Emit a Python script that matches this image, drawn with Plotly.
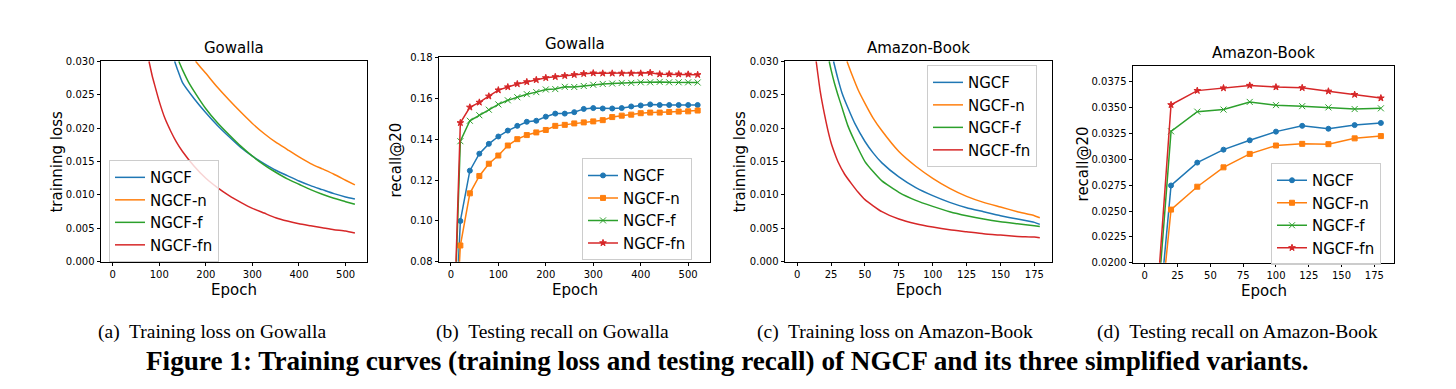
import plotly.graph_objects as go

W, H = 1456, 389
C_BLUE, C_ORANGE, C_GREEN, C_RED = "#1f77b4", "#ff7f0e", "#2ca02c", "#d62728"
names = ["NGCF", "NGCF-n", "NGCF-f", "NGCF-fn"]
colors = [C_BLUE, C_ORANGE, C_GREEN, C_RED]

# ---- (a) training loss on Gowalla ----
gl_ngcf_x = [133, 140, 150, 175, 200, 225, 250, 275, 300, 325, 350, 375, 400, 425, 450, 475, 500, 520]
gl_ngcf_y = [0.030, 0.0286, 0.0268, 0.0244, 0.0223, 0.0204, 0.0187, 0.0171, 0.0158, 0.0147, 0.0137,
             0.0129, 0.0121, 0.0114, 0.0108, 0.0102, 0.0097, 0.0094]
gl_n_x = [178, 190, 200, 225, 250, 275, 300, 325, 350, 375, 400, 425, 450, 475, 500, 520]
gl_n_y = [0.030, 0.0290, 0.0282, 0.0261, 0.0242, 0.0224, 0.0207, 0.0192, 0.0179, 0.0168, 0.0157,
          0.0147, 0.0139, 0.0131, 0.0122, 0.0115]
gl_f_x = [142, 150, 162, 175, 200, 225, 250, 275, 300, 325, 350, 375, 400, 425, 450, 475, 500, 520]
gl_f_y = [0.030, 0.0287, 0.0270, 0.0255, 0.0229, 0.0208, 0.0190, 0.0173, 0.0158, 0.0145, 0.0134,
          0.0124, 0.0116, 0.0108, 0.0101, 0.0095, 0.0090, 0.0086]
gl_fn_x = [78, 85, 90, 100, 112, 125, 137, 150, 175, 200, 225, 250, 275, 300, 325, 350, 375, 400,
           425, 450, 475, 500, 520]
gl_fn_y = [0.030, 0.0278, 0.0265, 0.0240, 0.0215, 0.0195, 0.0179, 0.0165, 0.0143, 0.0125, 0.0111,
           0.0099, 0.0089, 0.0080, 0.0073, 0.0066, 0.0061, 0.0057, 0.0054, 0.0051, 0.0048, 0.0046, 0.0043]

# ---- (b) testing recall on Gowalla ----
gr_epochs = list(range(0, 521, 20))
gr_ngcf = [0.0, 0.100, 0.1246, 0.1329, 0.1377, 0.1413, 0.1442, 0.1465, 0.1485, 0.1490, 0.1510, 0.1525,
           0.1525, 0.1532, 0.1548, 0.1552, 0.1550, 0.1550, 0.1552, 0.1560, 0.1565, 0.1570, 0.1567, 0.1567,
           0.1567, 0.1567, 0.1567]
gr_n = [0.0, 0.088, 0.1135, 0.1220, 0.1280, 0.1320, 0.1369, 0.1400, 0.1420, 0.1433, 0.1445, 0.1465,
        0.1470, 0.1477, 0.1482, 0.1487, 0.1493, 0.1508, 0.1515, 0.1520, 0.1527, 0.1530, 0.1530, 0.1533,
        0.1535, 0.1536, 0.1540]
gr_f = [0.0, 0.139, 0.1490, 0.1517, 0.1544, 0.1570, 0.1590, 0.1605, 0.1620, 0.1630, 0.1643, 0.1645,
        0.1656, 0.1655, 0.1660, 0.1666, 0.1670, 0.1672, 0.1675, 0.1675, 0.1678, 0.1678, 0.1680, 0.1678,
        0.1678, 0.1678, 0.1677]
gr_fn = [0.0, 0.148, 0.1556, 0.1580, 0.1610, 0.1640, 0.1655, 0.1670, 0.1680, 0.1690, 0.1700, 0.1705,
         0.1710, 0.1715, 0.1720, 0.1723, 0.1722, 0.1722, 0.1722, 0.1722, 0.1722, 0.1725, 0.1718, 0.1718,
         0.1718, 0.1717, 0.1715]

# ---- (c) training loss on Amazon-Book ----
al_ngcf_x = [26.8, 30, 33, 37.5, 42.5, 50, 56, 62.5, 75, 87.5, 100, 112.5, 125, 137.5, 150, 162.5, 175, 179]
al_ngcf_y = [0.030, 0.0274, 0.0253, 0.0230, 0.0207, 0.0180, 0.0163, 0.0148, 0.0127, 0.0111, 0.0099,
             0.0089, 0.0081, 0.0075, 0.0069, 0.0064, 0.0059, 0.0056]
al_n_x = [36.7, 40, 45, 50, 56, 62.5, 75, 87.5, 100, 112.5, 125, 137.5, 150, 162.5, 175, 179]
al_n_y = [0.030, 0.0282, 0.0257, 0.0237, 0.0215, 0.0196, 0.0165, 0.0143, 0.0125, 0.0110, 0.0098,
          0.0089, 0.0082, 0.0075, 0.0069, 0.0066]
al_f_x = [23.6, 25, 27.5, 30, 33, 37.5, 42.5, 50, 56, 62.5, 75, 87.5, 100, 112.5, 125, 137.5, 150,
          162.5, 175, 179]
al_f_y = [0.030, 0.0287, 0.0267, 0.0250, 0.0231, 0.0203, 0.0180, 0.0150, 0.0135, 0.0121, 0.0104,
          0.0092, 0.0083, 0.0075, 0.0069, 0.0064, 0.0060, 0.0057, 0.0054, 0.0053]
al_fn_x = [14, 17, 20, 22.5, 25, 27.5, 30, 35, 40, 45, 50, 62.5, 75, 87.5, 100, 112.5, 125, 137.5,
           150, 162.5, 175, 179]
al_fn_y = [0.030, 0.0255, 0.0222, 0.0198, 0.0178, 0.0163, 0.0150, 0.0131, 0.0117, 0.0104, 0.0093,
           0.0075, 0.0064, 0.0057, 0.0052, 0.0048, 0.0045, 0.0042, 0.0040, 0.0038, 0.0037, 0.0036]

# ---- (d) testing recall on Amazon-Book ----
ar_epochs = list(range(0, 181, 20))
ar_ngcf = [0.0, 0.02747, 0.02968, 0.03093, 0.03183, 0.03267, 0.03323, 0.03295, 0.03330, 0.03351]
ar_n = [0.0, 0.02514, 0.02735, 0.02922, 0.03052, 0.03133, 0.03149, 0.03146, 0.03202, 0.03224]
ar_f = [0.0, 0.03270, 0.03460, 0.03480, 0.03554, 0.03523, 0.03513, 0.03501, 0.03485, 0.03492]
ar_fn = [0.0, 0.03526, 0.03663, 0.03688, 0.03713, 0.03697, 0.03690, 0.03657, 0.03625, 0.03591]

panel_titles = ["Gowalla", "Gowalla", "Amazon-Book", "Amazon-Book"]
captions = ["(a)  Training loss on Gowalla", "(b)  Testing recall on Gowalla",
            "(c)  Training loss on Amazon-Book", "(d)  Testing recall on Amazon-Book"]
fig_title = "Figure 1: Training curves (training loss and testing recall) of NGCF and its three simplified variants."

# plot-area pixel boxes (left, right, top, bottom)
boxes = [(101, 367, 57, 264), (439, 710, 53, 264), (785, 1052, 57, 264), (1133, 1394, 62, 265)]

def px(x):
    return x / W

def py(y):
    return 1 - y / H

fig = go.Figure()

loss_g = [(gl_ngcf_x, gl_ngcf_y), (gl_n_x, gl_n_y), (gl_f_x, gl_f_y), (gl_fn_x, gl_fn_y)]
loss_a = [(al_ngcf_x, al_ngcf_y), (al_n_x, al_n_y), (al_f_x, al_f_y), (al_fn_x, al_fn_y)]
rec_g = [gr_ngcf, gr_n, gr_f, gr_fn]
rec_a = [ar_ngcf, ar_n, ar_f, ar_fn]
symbols = ["circle", "square", "x-thin-open", "star"]
msizes = [5, 5, 6, 5]

for i in range(4):
    fig.add_trace(go.Scatter(x=loss_g[i][0], y=loss_g[i][1], mode="lines", name=names[i],
                             line=dict(color=colors[i], width=1.5, shape="spline", smoothing=0.5),
                             xaxis="x", yaxis="y", legend="legend"))
for i in range(4):
    fig.add_trace(go.Scatter(x=gr_epochs, y=rec_g[i], mode="lines+markers", name=names[i],
                             line=dict(color=colors[i], width=1.5),
                             marker=dict(symbol=symbols[i], size=msizes[i], color=colors[i],
                                         line=dict(color=colors[i], width=1)),
                             xaxis="x2", yaxis="y2", legend="legend2"))
for i in range(4):
    fig.add_trace(go.Scatter(x=loss_a[i][0], y=loss_a[i][1], mode="lines", name=names[i],
                             line=dict(color=colors[i], width=1.5, shape="spline", smoothing=0.5),
                             xaxis="x3", yaxis="y3", legend="legend3"))
for i in range(4):
    fig.add_trace(go.Scatter(x=ar_epochs, y=rec_a[i], mode="lines+markers", name=names[i],
                             line=dict(color=colors[i], width=1.5),
                             marker=dict(symbol=symbols[i], size=msizes[i], color=colors[i],
                                         line=dict(color=colors[i], width=1)),
                             xaxis="x4", yaxis="y4", legend="legend4"))

tick_font = dict(family="DejaVu Sans", size=10, color="black")
axis_common = dict(showline=True, mirror=True, linecolor="black", linewidth=1, ticks="outside",
                   ticklen=3.5, tickwidth=1, tickcolor="black", showgrid=False, zeroline=False,
                   tickfont=tick_font)

xranges = [[-25, 546], [-25, 546], [-9, 188], [-9, 190]]
xticks = [[0, 100, 200, 300, 400, 500], [0, 100, 200, 300, 400, 500],
          [0, 25, 50, 75, 100, 125, 150, 175], [0, 25, 50, 75, 100, 125, 150, 175]]
yranges = [[0, 0.030], [0.08, 0.18], [0, 0.030], [0.02, 0.039]]
yticks = [[0, 0.005, 0.010, 0.015, 0.020, 0.025, 0.030],
          [0.08, 0.10, 0.12, 0.14, 0.16, 0.18],
          [0, 0.005, 0.010, 0.015, 0.020, 0.025, 0.030],
          [0.02, 0.0225, 0.025, 0.0275, 0.03, 0.0325, 0.035, 0.0375]]
yfmt = [".3f", ".2f", ".3f", ".4f"]
ylabels = ["trainning loss", "recall@20", "trainning loss", "recall@20"]

layout = dict(width=W, height=H, plot_bgcolor="white", paper_bgcolor="white",
              margin=dict(l=0, r=0, t=0, b=0), showlegend=True)
annotations = []
for i, (l, r, t, b) in enumerate(boxes):
    sfx = "" if i == 0 else str(i + 1)
    layout["xaxis" + sfx] = dict(domain=[px(l), px(r)], range=xranges[i], tickvals=xticks[i],
                                 anchor="y" + sfx, **axis_common)
    layout["yaxis" + sfx] = dict(domain=[py(b), py(t)], range=yranges[i], tickvals=yticks[i],
                                 tickformat=yfmt[i], anchor="x" + sfx, **axis_common)
    annotations.append(dict(text=panel_titles[i], x=px((l + r) / 2), y=py(t - 2), xref="paper",
                            yref="paper", xanchor="center", yanchor="bottom", showarrow=False,
                            font=dict(family="DejaVu Sans", size=15, color="black")))
    annotations.append(dict(text="Epoch", x=px((l + r) / 2), y=py(b + 18), xref="paper", yref="paper",
                            xanchor="center", yanchor="top", showarrow=False,
                            font=dict(family="DejaVu Sans", size=15, color="black")))
    yoff = [44, 43, 45, 50][i]
    annotations.append(dict(text=ylabels[i], x=px(l - yoff), y=py((t + b) / 2), xref="paper",
                            yref="paper", xanchor="center", yanchor="middle", textangle=-90,
                            showarrow=False, font=dict(family="DejaVu Sans", size=15, color="black")))

cap_x = [212, 552, 895, 1237]
for i in range(4):
    annotations.append(dict(text=captions[i], x=px(cap_x[i]), y=py(336), xref="paper", yref="paper",
                            xanchor="center", yanchor="middle", showarrow=False,
                            font=dict(family="Liberation Serif", size=19.5, color="black")))
annotations.append(dict(text="<b>" + fig_title + "</b>", x=px(727), y=py(366), xref="paper",
                        yref="paper", xanchor="center", yanchor="middle", showarrow=False,
                        font=dict(family="Liberation Serif", size=27.2, color="black")))
layout["annotations"] = annotations

leg_pos = [(109, 159), (582, 157), (927, 61), (1271, 162)]
for i, (lx, ly) in enumerate(leg_pos):
    key = "legend" if i == 0 else "legend" + str(i + 1)
    layout[key] = dict(x=px(lx), y=py(ly), xanchor="left", yanchor="top", xref="paper", yref="paper",
                       bgcolor="rgba(255,255,255,0.8)", bordercolor="#cccccc", borderwidth=1,
                       font=dict(family="DejaVu Sans", size=15, color="black"),
                       tracegroupgap=0, itemwidth=30)

fig.update_layout(**layout)
fig.write_html("out.html", config={"displayModeBar": False},
               post_script="document.body.style.margin='0';")
